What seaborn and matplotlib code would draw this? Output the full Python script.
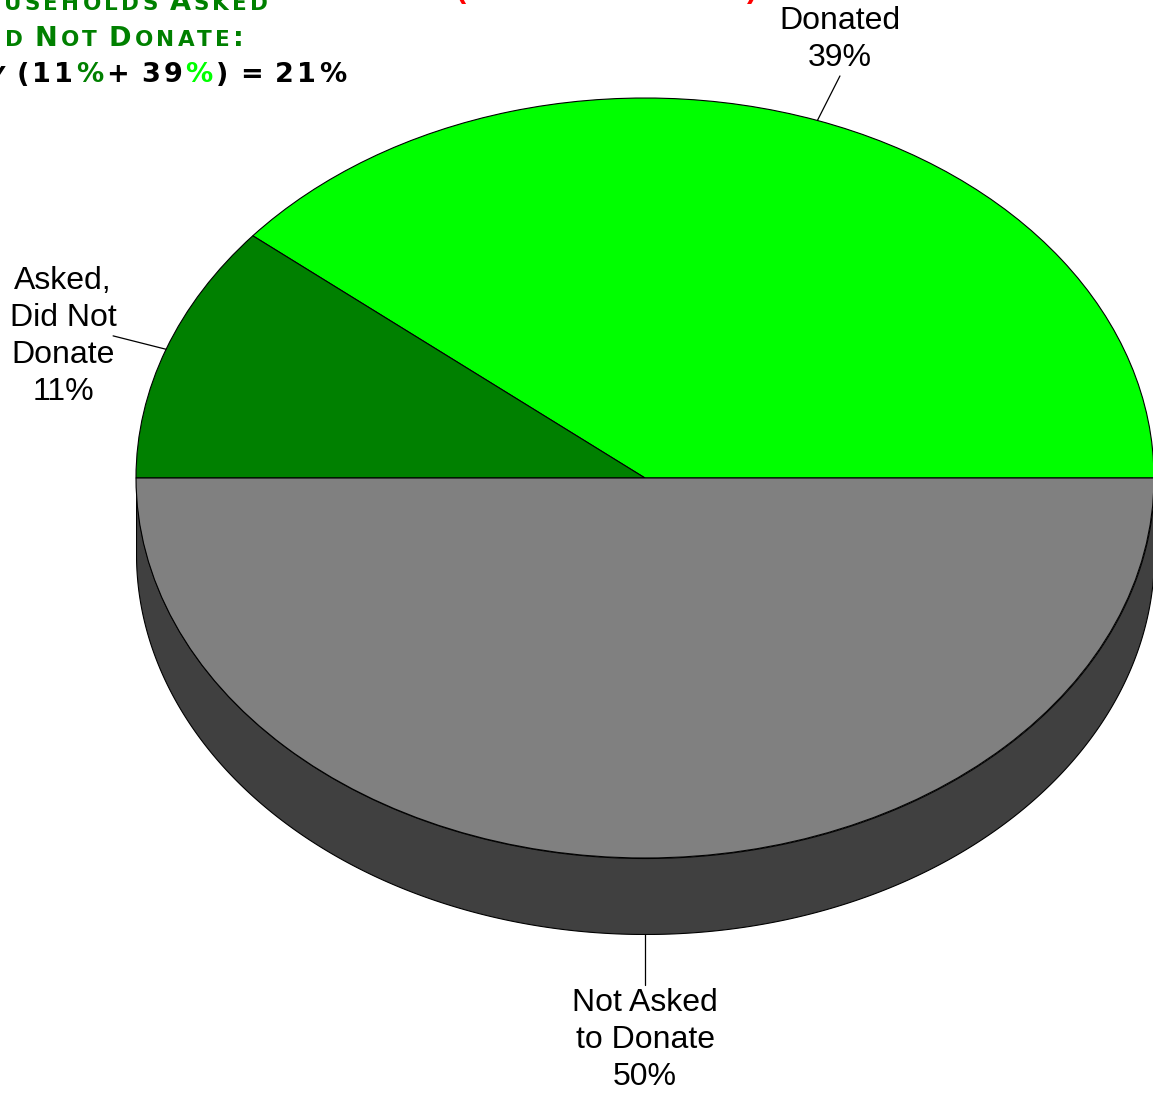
import numpy as np
import matplotlib
matplotlib.use("Agg")
import matplotlib.pyplot as plt
import seaborn as sns

# Data
labels = ["Donated", "Asked,\nDid Not\nDonate", "Not Asked\nto Donate"]
shares = [39, 11, 50]
slice_colors = ["#00FF00", "#008000", "#808080"]
side_color = "#404040"

title_line1 = [("Households Asked", "#008000")]
title_line2 = [("Did Not Donate:", "#008000")]
title_line3 = [("Divide 11 by (11", "black"), ("%", "#008000"), ("+ 39", "black"),
               ("%", "#00FF00"), (") = 21%", "black")]

# label layout (data units: x radius = 1, y radius = 1)
text_pos = [(0.383, 1.155), (-1.143, 0.372), (0.0, -1.479)]
line_end = [(0.383, 1.058), (-1.045, 0.374), (0.0, -1.335)]
depth = 0.2

sns.set_theme(style="white")
plt.rcParams["font.family"] = ["Liberation Sans", "DejaVu Sans"]

W, H = 1153, 1095
fig = plt.figure(figsize=(W / 100, H / 100), dpi=100)
ax = fig.add_axes([136 / W, 1 - 934 / H, 1018 / W, 836 / H])

# 3D side of the pie (lower half only is visible)
t = np.linspace(np.pi, 2 * np.pi, 300)
ax.fill_between(np.cos(t), np.sin(t) - depth, np.sin(t), color=side_color,
                edgecolor="black", linewidth=0.8, zorder=1)

wedges, _ = ax.pie(shares, colors=slice_colors, startangle=0, counterclock=True,
                   wedgeprops=dict(edgecolor="black", linewidth=0.8, zorder=2))
ax.set_aspect("auto")
ax.set_xlim(-1, 1)
ax.set_ylim(-1.2, 1)
ax.axis("off")

# labels with leader lines
start = 0
for lab, val, tp, le in zip(labels, shares, text_pos, line_end):
    mid = np.deg2rad((start + val / 2) / 100 * 360)
    start += val
    x0, y0 = np.cos(mid), np.sin(mid)
    if y0 < -0.99:
        y0 -= depth
    ax.plot([x0, le[0]], [y0, le[1]], color="black", lw=0.9, clip_on=False, zorder=3)
    ax.text(tp[0], tp[1], f"{lab}\n{val}%", ha="center", va="center",
            fontsize=23, linespacing=1.31, color="black", clip_on=False)


# title block in the top-left, small caps, partly cut off by the figure edge
renderer = fig.canvas.get_renderer()


def small_caps_line(pieces, end_px, base_py, big=19.5, small=15.5, track=3.2):
    chars = []
    for txt, col in pieces:
        for ch in txt:
            size = small if ch.islower() else big
            chars.append((ch.upper(), size, col))
    cur = end_px
    for ch, size, col in reversed(chars):
        if ch == " ":
            cur -= 0.32 * size * 100 / 72
            continue
        t = fig.text(cur / W, 1 - base_py / H, ch, ha="right", va="baseline",
                     fontsize=size, color=col, fontweight="bold",
                     family=["DejaVu Sans"])
        w = t.get_window_extent(renderer).width
        cur -= w + track


small_caps_line(title_line1, 268, 10)
small_caps_line(title_line2, 244, 46)
small_caps_line(title_line3, 346, 82)

# red parentheses peeking from above
fig.text(461 / W, 1 - 4 / H, "(", ha="center", va="bottom", color="red",
         fontsize=22, fontweight="bold")
fig.text(752 / W, 1 - 4 / H, ")", ha="center", va="bottom", color="red",
         fontsize=22, fontweight="bold")

fig.savefig("out.png", dpi=100)
